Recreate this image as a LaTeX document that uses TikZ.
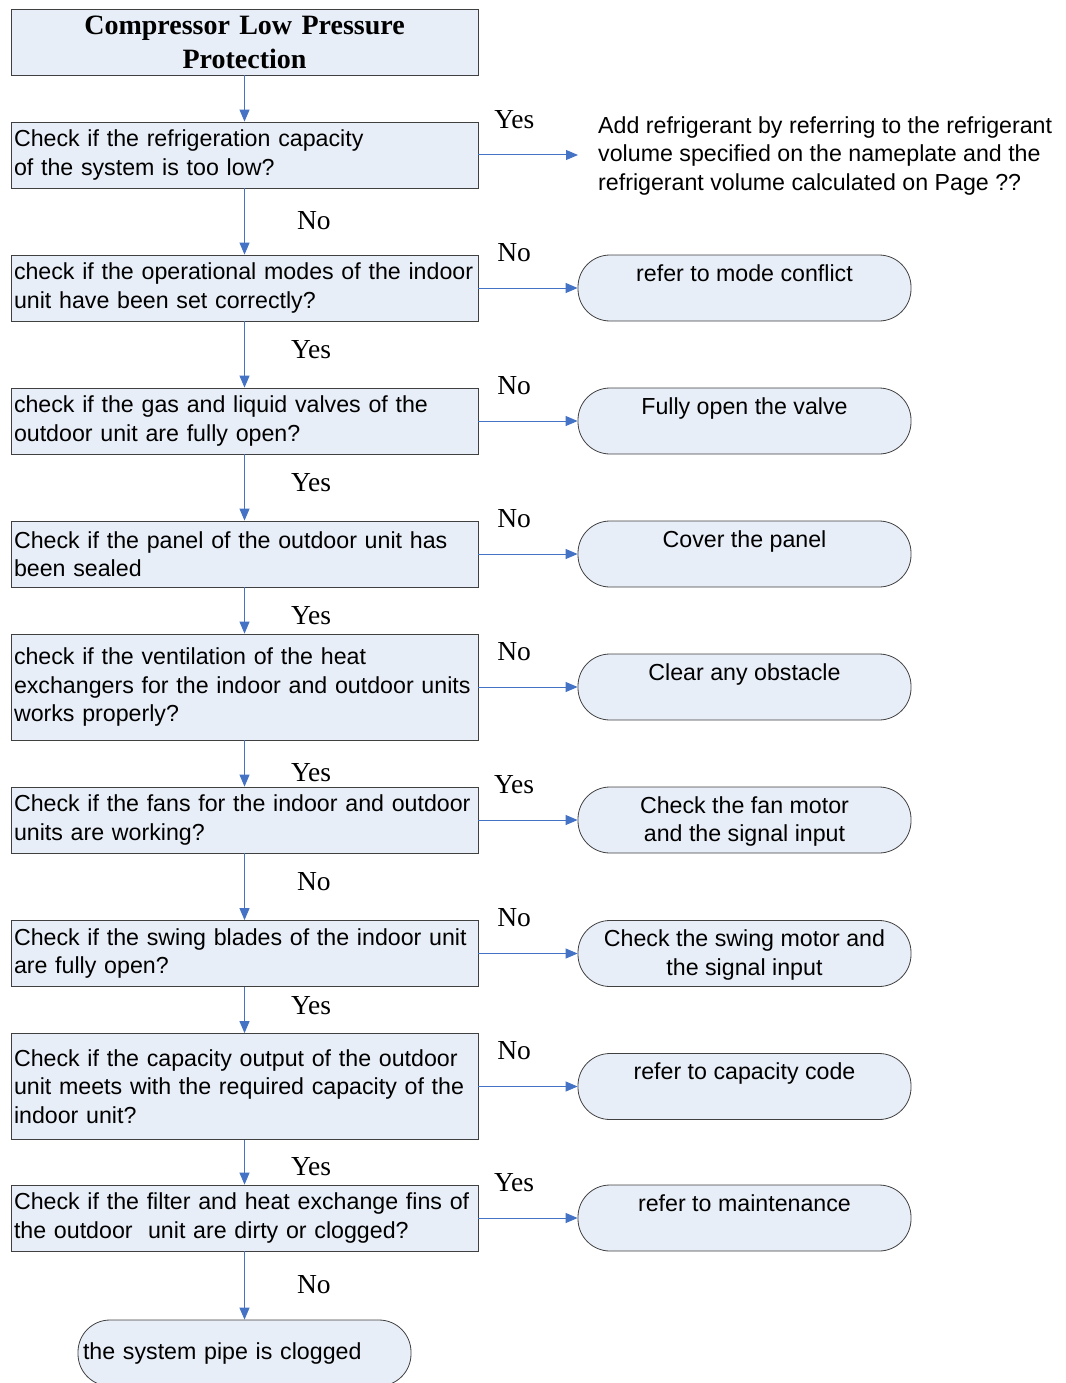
\documentclass[tikz,border=0pt]{standalone}
\usepackage{fontspec}
\setmainfont{Liberation Serif}
\newfontfamily\arialfont{Liberation Sans}
\usepackage{tikz}
\usetikzlibrary{positioning,arrows.meta}
\definecolor{boxfill}{RGB}{232,238,247}
\definecolor{flowblue}{RGB}{68,114,196}
\definecolor{edgegray}{RGB}{64,64,64}
\lefthyphenmin=64
\newcommand{\toptxt}[1]{\parbox[c][53pt][t]{320pt}{\centering\strut #1}}

\begin{document}
\begin{tikzpicture}[x=1pt,y=-1pt,
    qbox/.style={draw=edgegray, fill=boxfill, line width=0.8pt, text width=461pt, inner xsep=3pt,
      minimum height=66pt, align=left, font=\arialfont\fontsize{23.2}{28.5}\selectfont},
    abox/.style={draw=edgegray, fill=boxfill, line width=0.8pt, rounded corners=32pt, minimum width=333pt,
      minimum height=66pt, inner xsep=0pt, inner ysep=6.5pt, font=\arialfont\fontsize{23.2}{28.5}\selectfont},
    flow/.style={draw=flowblue, line width=1pt, -{Triangle[length=12pt,width=10pt]}},
    ans/.style={font=\fontsize{27.5}{30}\selectfont, inner sep=0pt}]
  \useasboundingbox (0,0) rectangle (1065,1383);

  % question column
  \node[qbox, align=center, font=\fontsize{28}{34}\selectfont\bfseries] (title) at (244.5,42)
    {Compressor Low Pressure\\Protection};
  \node[qbox] (chk1) at (244.5,155) {Check if the refrigeration capacity\\of the system is too low?};
  \node[qbox] (chk2) at (244.5,288) {check if the operational modes of the indoor\\unit have been set correctly?};
  \node[qbox] (chk3) at (244.5,421) {check if the gas and liquid valves of the\\outdoor unit are fully open?};
  \node[qbox] (chk4) at (244.5,554) {Check if the panel of the outdoor unit has\\been sealed};
  \node[qbox, minimum height=106pt] (chk5) at (244.5,687)
    {check if the ventilation of the heat\\exchangers for the indoor and outdoor units\\works properly?};
  \node[qbox] (chk6) at (244.5,820) {Check if the fans for the indoor and outdoor\\units are working?};
  \node[qbox] (chk7) at (244.5,953.5) {Check if the swing blades of the indoor unit\\are fully open?};
  \node[qbox, minimum height=106pt] (chk8) at (244.5,1086.5)
    {Check if the capacity output of the outdoor\\unit meets with the required capacity of the\\indoor unit?};
  \node[qbox] (chk9) at (244.5,1218) {Check if the filter and heat exchange fins of\\the outdoor\ \ unit are dirty or clogged?};
  \node[abox, align=left, text width=323pt, inner xsep=5pt, inner ysep=0pt] (pipe) at (244.5,1353)
    {the system pipe is clogged};

  % action column
  \node[anchor=west, inner sep=0pt, align=left, font=\arialfont\fontsize{23.2}{28.5}\selectfont] (addref) at (598,156)
    {Add refrigerant by referring to the refrigerant\\volume specified on the nameplate and the\\refrigerant volume calculated on Page ??};
  \node[abox] (mode) at (744.5,288) {\toptxt{refer to mode conflict}};
  \node[abox] (valve) at (744.5,421) {\toptxt{Fully open the valve}};
  \node[abox] (panel) at (744.5,554) {\toptxt{Cover the panel}};
  \node[abox] (obst) at (744.5,687) {\toptxt{Clear any obstacle}};
  \node[abox] (fanmot) at (744.5,820) {\toptxt{Check the fan motor\\and the signal input}};
  \node[abox] (swing) at (744.5,953.5) {\toptxt{Check the swing motor and\\the signal input}};
  \node[abox] (capcode) at (744.5,1086.5) {\toptxt{refer to capacity code}};
  \node[abox] (maint) at (744.5,1218) {\toptxt{refer to maintenance}};

  % connectors down
  \draw[flow] (title) -- (chk1);
  \draw[flow] (chk1) -- node[ans, pos=0.48, right=52pt] {No} (chk2);
  \draw[flow] (chk2) -- node[ans, pos=0.42, right=46pt] {Yes} (chk3);
  \draw[flow] (chk3) -- node[ans, pos=0.43, right=46pt] {Yes} (chk4);
  \draw[flow] (chk4) -- node[ans, pos=0.62, right=46pt] {Yes} (chk5);
  \draw[flow] (chk5) -- node[ans, pos=0.70, right=46pt] {Yes} (chk6);
  \draw[flow] (chk6) -- node[ans, pos=0.43, right=52pt] {No} (chk7);
  \draw[flow] (chk7) -- node[ans, pos=0.41, right=46pt] {Yes} (chk8);
  \draw[flow] (chk8) -- node[ans, pos=0.60, right=46pt] {Yes} (chk9);
  \draw[flow] (chk9) -- node[ans, pos=0.49, right=52pt] {No} (pipe);

  % connectors right
  \draw[flow, shorten >=20pt] (chk1.east) -- node[ans, pos=0.3, above=26pt] {Yes} (chk1.east -| addref.west);
  \draw[flow] (chk2) -- node[ans, pos=0.36, above=26pt] {No} (mode);
  \draw[flow] (chk3) -- node[ans, pos=0.36, above=26pt] {No} (valve);
  \draw[flow] (chk4) -- node[ans, pos=0.36, above=26pt] {No} (panel);
  \draw[flow] (chk5) -- node[ans, pos=0.36, above=26pt] {No} (obst);
  \draw[flow] (chk6) -- node[ans, pos=0.36, above=26pt] {Yes} (fanmot);
  \draw[flow] (chk7) -- node[ans, pos=0.36, above=26pt] {No} (swing);
  \draw[flow] (chk8) -- node[ans, pos=0.36, above=26pt] {No} (capcode);
  \draw[flow] (chk9) -- node[ans, pos=0.36, above=26pt] {Yes} (maint);
\end{tikzpicture}
\end{document}
